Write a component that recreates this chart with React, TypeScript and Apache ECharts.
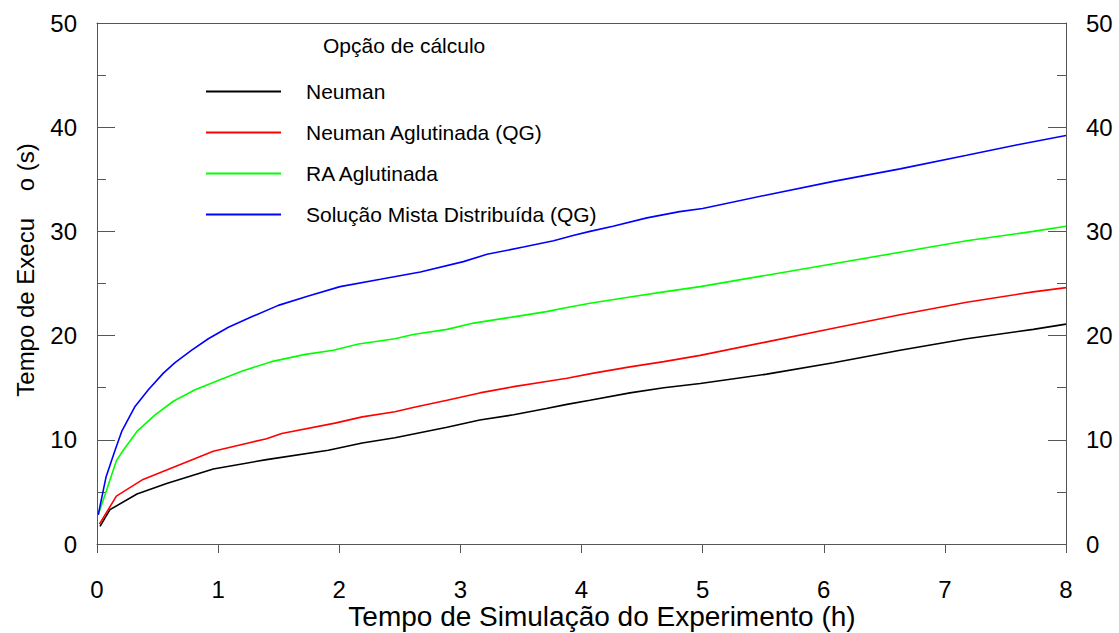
import React, { useEffect, useRef } from "react";
import * as echarts from "echarts";

const FONT = "'Liberation Sans', Arial, Helvetica, sans-serif";

const seriesNames = [
  "Neuman",
  "Neuman Aglutinada (QG)",
  "RA Aglutinada",
  "Solução Mista Distribuída (QG)",
];
const seriesColors = ["#000000", "#ff0000", "#00ff00", "#0000ff"];

const xTicks = [0, 1, 2, 3, 4, 5, 6, 7, 8];
const yTicks = [0, 10, 20, 30, 40, 50];

const neuman: [number, number][] = [
  [0.025, 1.7], [0.107, 3.3], [0.33, 4.8], [0.575, 5.8], [0.96, 7.2], [1.4, 8.1],
  [1.91, 9.0], [2.19, 9.7], [2.46, 10.2], [2.89, 11.2], [3.16, 11.9], [3.44, 12.4],
  [3.71, 13.0], [3.88, 13.4], [4.07, 13.8], [4.4, 14.5], [4.68, 15.0], [4.98, 15.4],
  [5.53, 16.3], [6.08, 17.4], [6.63, 18.6], [7.18, 19.7], [7.73, 20.6], [8.0, 21.1],
];

const neumanAglutinada: [number, number][] = [
  [0.02, 1.9], [0.16, 4.6], [0.38, 6.2], [0.575, 7.1], [0.96, 8.9], [1.25, 9.7],
  [1.4, 10.1], [1.525, 10.6], [1.965, 11.6], [2.19, 12.2], [2.46, 12.7], [2.61, 13.1],
  [2.89, 13.8], [3.16, 14.5], [3.44, 15.1], [3.71, 15.6], [3.88, 15.9], [4.1, 16.4],
  [4.4, 17.0], [4.68, 17.5], [4.98, 18.1], [5.53, 19.4], [6.08, 20.7], [6.63, 22.0],
  [7.18, 23.2], [7.73, 24.2], [8.0, 24.6],
];

const raAglutinada: [number, number][] = [
  [0.01, 2.8], [0.074, 5.0], [0.16, 8.0], [0.217, 9.0], [0.33, 10.8], [0.48, 12.4],
  [0.63, 13.7], [0.81, 14.8], [1.0, 15.7], [1.2, 16.6], [1.44, 17.5], [1.72, 18.2],
  [1.95, 18.6], [2.16, 19.2], [2.46, 19.7], [2.61, 20.1], [2.89, 20.6], [3.11, 21.2],
  [3.44, 21.8], [3.71, 22.3], [3.88, 22.7], [4.07, 23.1], [4.4, 23.7], [4.68, 24.2],
  [4.98, 24.7], [5.53, 25.8], [6.08, 26.9], [6.63, 28.0], [7.18, 29.1], [7.73, 30.0],
  [8.0, 30.5],
];

const solucaoMista: [number, number][] = [
  [0.01, 2.8], [0.074, 6.4], [0.149, 9.0], [0.204, 10.8], [0.314, 13.2], [0.424, 14.8],
  [0.548, 16.4], [0.644, 17.4], [0.782, 18.6], [0.919, 19.7], [1.085, 20.8], [1.277, 21.8],
  [1.497, 22.9], [1.745, 23.8], [2.007, 24.7], [2.34, 25.4], [2.67, 26.1], [3.025, 27.1],
  [3.22, 27.8], [3.52, 28.5], [3.77, 29.1], [3.93, 29.6], [4.07, 30.0], [4.26, 30.5],
  [4.54, 31.3], [4.81, 31.9], [5.0, 32.2], [5.53, 33.5], [6.08, 34.8], [6.63, 36.0],
  [7.18, 37.3], [7.59, 38.3], [8.0, 39.2],
];

const seriesData = [neuman, neumanAglutinada, raAglutinada, solucaoMista];

const xTitle = "Tempo de Simulação do Experimento (h)";
const yTitle = "Tempo de Execu\u00A0\u00A0\u00A0\u00A0o (s)";
const legendTitle = "Opção de cálculo";

const AXIS_COLOR = "#555555";

export default function App() {
  const ref = useRef<HTMLDivElement>(null);

  useEffect(() => {
    if (!ref.current) return;
    const chart = echarts.init(ref.current, null, { renderer: "svg" });

    const yAxisBase = (position: "left" | "right") => ({
      type: "value",
      position,
      min: yTicks[0],
      max: yTicks[yTicks.length - 1],
      interval: 10,
      axisLine: { show: true, onZero: false, lineStyle: { color: AXIS_COLOR, width: 1 } },
      axisTick: { show: true, inside: true, length: 18, lineStyle: { color: AXIS_COLOR, width: 1 } },
      minorTick: { show: true, splitNumber: 2, length: 9, lineStyle: { color: AXIS_COLOR, width: 1 } },
      axisLabel: { margin: 20, fontSize: 24, color: "#000", fontFamily: FONT },
      splitLine: { show: false },
    });

    chart.setOption({
      animation: false,
      backgroundColor: "#ffffff",
      grid: { left: 97, right: 53, top: 23, bottom: 89, containLabel: false, outerBoundsMode: "none" },
      xAxis: [
        {
          type: "value",
          position: "bottom",
          min: xTicks[0],
          max: xTicks[xTicks.length - 1],
          interval: 1,
          axisLine: { show: true, onZero: false, lineStyle: { color: AXIS_COLOR, width: 1 } },
          axisTick: { show: true, inside: false, length: 9, lineStyle: { color: AXIS_COLOR, width: 1 } },
          axisLabel: { margin: 33, fontSize: 24, lineHeight: 24, color: "#000", fontFamily: FONT },
          splitLine: { show: false },
          name: xTitle,
          nameLocation: "middle",
          nameGap: 58,
          nameMoveOverlap: false,
          nameTextStyle: { fontSize: 28, lineHeight: 28, color: "#000", fontFamily: FONT, padding: [0, 0, 0, 41] },
        },
        {
          type: "value",
          position: "top",
          min: xTicks[0],
          max: xTicks[xTicks.length - 1],
          interval: 1,
          axisLine: { show: true, onZero: false, lineStyle: { color: AXIS_COLOR, width: 1 } },
          axisTick: { show: false },
          axisLabel: { show: false },
          splitLine: { show: false },
        },
      ],
      yAxis: [yAxisBase("left"), yAxisBase("right")],
      legend: {
        orient: "vertical",
        left: 206,
        top: 81,
        padding: 0,
        itemWidth: 75,
        itemHeight: 2,
        itemGap: 20,
        icon: "rect",
        selectedMode: false,
        textStyle: { fontSize: 21, color: "#000", fontFamily: FONT, lineHeight: 20, padding: [0, 0, 0, 20] },
        data: seriesNames,
      },
      graphic: [
        {
          type: "text",
          left: 323,
          top: 35,
          style: { text: legendTitle, fontSize: 21, fill: "#000", fontFamily: FONT },
        },
        {
          type: "text",
          x: 25,
          y: 270,
          rotation: Math.PI / 2,
          style: {
            text: yTitle,
            fontSize: 24,
            fill: "#000",
            fontFamily: FONT,
            align: "center",
            verticalAlign: "middle",
          },
        },
      ],
      series: seriesNames.map((name, i) => ({
        name,
        type: "line",
        xAxisIndex: 0,
        yAxisIndex: 0,
        data: seriesData[i],
        showSymbol: false,
        symbol: "none",
        color: seriesColors[i],
        lineStyle: { color: seriesColors[i], width: 1.6 },
        itemStyle: { color: seriesColors[i] },
      })),
    });

    return () => chart.dispose();
  }, []);

  return (
    <div
      ref={ref}
      style={{ position: "absolute", left: 0, top: 0, width: 1119, height: 633, background: "#fff" }}
    />
  );
}
